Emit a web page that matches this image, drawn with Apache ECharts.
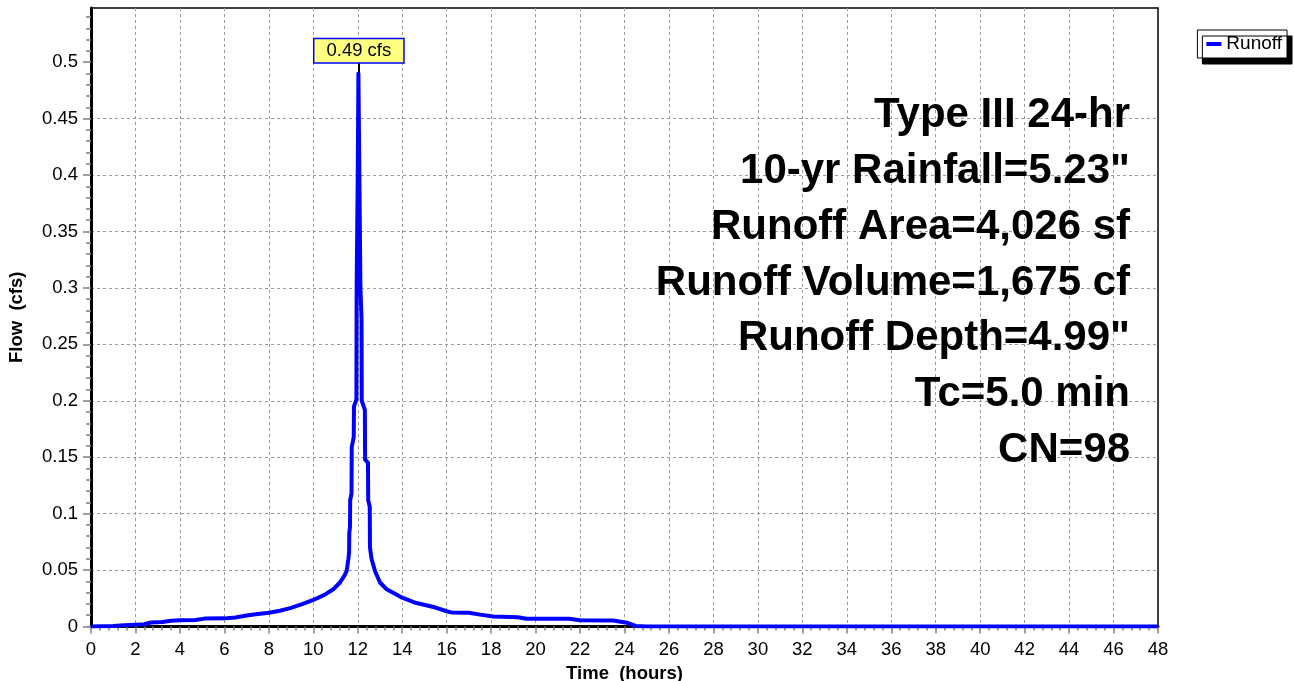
<!DOCTYPE html>
<html>
<head>
<meta charset="utf-8">
<script src="https://cdn.jsdelivr.net/npm/echarts@6/dist/echarts.min.js"></script>
<style>
html,body{margin:0;padding:0;background:#fff;}
#chart{width:1294px;height:681px;}
</style>
</head>
<body>
<div id="chart"></div>
<script>
// ---- data ----
const seriesName = 'Runoff';
const timeHours = [0, 1.0, 1.5, 2.0, 2.4, 2.7, 3.2, 3.6, 4.0, 4.7, 5.1, 6.0, 6.5, 7.0, 7.5, 8.0, 8.5, 9.0, 9.5, 10.0, 10.5, 10.9, 11.2, 11.4, 11.5, 11.58, 11.61, 11.62, 11.65, 11.66, 11.72, 11.73, 11.82, 11.83, 11.94, 11.95, 12.0, 12.03, 12.08, 12.12, 12.17, 12.18, 12.32, 12.33, 12.46, 12.47, 12.54, 12.55, 12.62, 12.78, 13.0, 13.3, 14.0, 14.6, 15.5, 16.0, 16.2, 17.0, 17.5, 18.1, 19.2, 19.6, 21.5, 22.0, 23.5, 24.1, 24.5, 25, 48];
const flowCfs = [0, 0.0005, 0.001, 0.0015, 0.002, 0.0035, 0.004, 0.005, 0.0055, 0.0057, 0.007, 0.0072, 0.008, 0.0097, 0.011, 0.0122, 0.014, 0.0165, 0.0198, 0.0235, 0.028, 0.033, 0.039, 0.045, 0.049, 0.060, 0.066, 0.083, 0.088, 0.112, 0.118, 0.159, 0.168, 0.195, 0.201, 0.300, 0.40, 0.49, 0.49, 0.30, 0.272, 0.200, 0.192, 0.148, 0.145, 0.112, 0.106, 0.070, 0.060, 0.049, 0.039, 0.033, 0.0255, 0.021, 0.0168, 0.0135, 0.0125, 0.0121, 0.0105, 0.0088, 0.0082, 0.0069, 0.0068, 0.0055, 0.0053, 0.0034, 0.0005, 0, 0];
const peakTime = 12.05;
const peakFlow = 0.49;
const peakLabel = '0.49 cfs';
const infoLines = ['Type III 24-hr', '10-yr Rainfall=5.23"', 'Runoff Area=4,026 sf', 'Runoff Volume=1,675 cf', 'Runoff Depth=4.99"', 'Tc=5.0 min', 'CN=98'];
const xName = 'Time  (hours)';
const yName = 'Flow  (cfs)';
const xMin = 0, xMax = 48, xStep = 2;
const yMin = 0, yMax = 0.548, yStep = 0.05;
const yTickValues = [0, 0.05, 0.1, 0.15, 0.2, 0.25, 0.3, 0.35, 0.4, 0.45, 0.5];

// ---- chart ----
const FONT = '"Liberation Sans", Arial, sans-serif';
const seriesData = timeHours.map((t, i) => [t, flowCfs[i]]);
const chart = echarts.init(document.getElementById('chart'), null, {renderer: 'canvas'});
const gridLine = {show: true, showMinLine: false, showMaxLine: false, lineStyle: {color: '#9a9a9a', width: 1, type: [3, 3]}};
chart.setOption({
  animation: false,
  backgroundColor: '#ffffff',
  textStyle: {fontFamily: FONT},
  title: {
    text: infoLines.join('\n'),
    left: 1125,
    top: 83,
    textAlign: 'right',
    textStyle: {fontFamily: FONT, fontSize: 42, fontWeight: 'bold', color: '#000', lineHeight: 55.7, align: 'right'}
  },
  legend: {
    data: [seriesName],
    right: 7,
    top: 30,
    backgroundColor: '#fff',
    borderColor: '#000',
    borderWidth: 1,
    borderRadius: 0,
    padding: [4, 5, 4, 9],
    shadowColor: '#000',
    shadowBlur: 0,
    shadowOffsetX: 5,
    shadowOffsetY: 6,
    icon: 'rect',
    itemWidth: 15,
    itemHeight: 4,
    itemGap: 4,
    textStyle: {fontFamily: FONT, fontSize: 19, color: '#000', lineHeight: 20}
  },
  grid: {
    left: 91, right: 136, top: 8, bottom: 54.5,
    outerBoundsMode: 'none',
    containLabel: false,
    show: true, borderColor: '#000', borderWidth: 1.5, backgroundColor: '#fff'
  },
  xAxis: {
    type: 'value',
    min: xMin, max: xMax, interval: xStep,
    name: xName, nameLocation: 'middle', nameGap: 34,
    nameTextStyle: {fontFamily: FONT, fontSize: 18.5, fontWeight: 'bold', color: '#000'},
    axisLine: {show: true, onZero: false, lineStyle: {color: '#000', width: 3}},
    axisTick: {show: true, length: 7, lineStyle: {color: '#808080', width: 1.5}},
    minorTick: {show: true, splitNumber: 5, length: 4, lineStyle: {color: '#808080', width: 1.5}},
    axisLabel: {fontFamily: FONT, fontSize: 18.5, color: '#000', margin: 14},
    splitLine: gridLine
  },
  yAxis: {
    type: 'value',
    min: yMin, max: yMax, interval: yStep,
    name: yName, nameLocation: 'middle', nameGap: 65,
    nameTextStyle: {fontFamily: FONT, fontSize: 18.5, fontWeight: 'bold', color: '#000'},
    axisLine: {show: true, onZero: false, lineStyle: {color: '#000', width: 3}},
    axisTick: {show: true, length: 8, customValues: yTickValues, lineStyle: {color: '#808080', width: 1.5}},
    minorTick: {show: true, splitNumber: 5, length: 5, lineStyle: {color: '#808080', width: 1.5}},
    axisLabel: {fontFamily: FONT, fontSize: 18.5, color: '#000', margin: 13, showMaxLabel: false,
      formatter: v => (Math.abs(v) < 1e-9 ? '0' : String(+v.toFixed(2)))},
    splitLine: gridLine
  },
  series: [{
    name: seriesName,
    type: 'line',
    data: seriesData,
    showSymbol: false,
    symbol: 'none',
    lineStyle: {color: '#0000ff', width: 4, join: 'round'},
    itemStyle: {color: '#0000ff'},
    z: 5,
    markLine: {
      silent: true,
      symbol: 'none',
      label: {show: false},
      lineStyle: {color: '#000', width: 2, type: 'solid'},
      data: [[{coord: [peakTime, peakFlow]}, {coord: [peakTime, 0.5]}]],
      z: 4
    },
    markPoint: {
      silent: true,
      symbol: 'rect',
      symbolSize: 0,
      data: [{coord: [peakTime, 0.5], value: peakLabel}],
      label: {
        show: true,
        position: 'top',
        distance: 0,
        formatter: peakLabel,
        fontFamily: FONT,
        fontSize: 18.5,
        lineHeight: 20,
        color: '#000',
        backgroundColor: '#ffff80',
        borderColor: '#0000ff',
        borderWidth: 1.5,
        padding: [2, 12, 1, 12]
      }
    }
  }]
});
</script>
</body>
</html>
